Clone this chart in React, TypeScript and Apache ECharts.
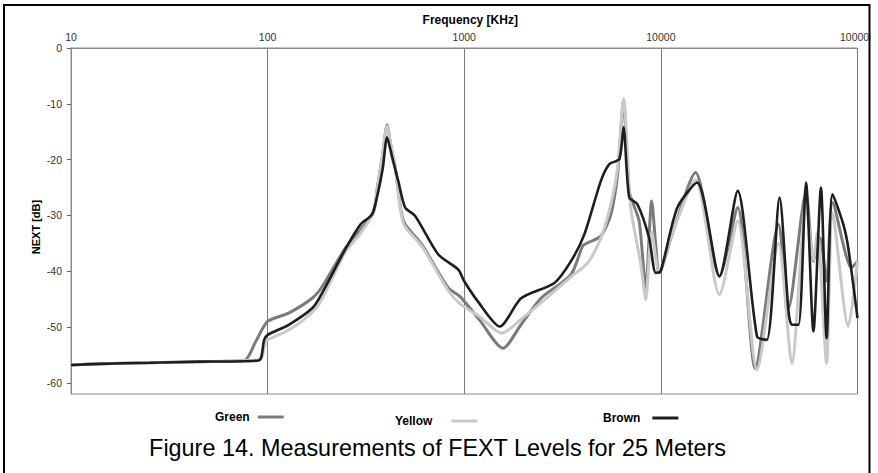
import React, { useEffect, useRef } from "react";
import * as echarts from "echarts";

const seriesNames = ["Green", "Yellow", "Brown"];
const xTickLabels = ["10", "100", "1000", "10000", "100000"];
const yTickValues = [0, -10, -20, -30, -40, -50, -60];

const greenFreq = [10, 14, 25, 45, 76, 87, 100, 128, 169, 190, 249, 297, 346, 360, 385, 405, 425, 446, 491, 608, 830, 950, 1200, 1574, 1950, 2461, 3491, 4000, 4246, 4955, 5570, 6026, 6457, 6905, 7750, 8375, 8980, 9415, 9790, 11500, 15000, 19860, 24600, 30200, 39630, 44600, 54740, 59700, 64440, 69660, 74700, 93300, 100000];
const greenDb = [-56.8, -56.6, -56.4, -56.2, -56.0, -52.6, -49.0, -47.5, -44.8, -42.7, -35.8, -32.6, -29.2, -25.4, -19, -13.8, -17.8, -21.4, -31, -35.2, -43, -44.5, -48.8, -53.8, -49.5, -44.8, -40.6, -35.5, -34.9, -33.7, -29.8, -22.6, -9.4, -25.6, -31, -43, -27.4, -35.2, -40.3, -33, -22.3, -40.9, -28.6, -57.4, -31.6, -46.6, -25.9, -38.2, -34, -41.8, -27.7, -39.4, -38.2];

const yellowFreq = [10, 14, 25, 45, 76, 92, 97, 100, 124, 150, 182, 249, 297, 346, 360, 385, 405, 425, 446, 491, 608, 830, 950, 1200, 1549, 1950, 2875, 3491, 4246, 4955, 5570, 6026, 6457, 7030, 7907, 8375, 8980, 9790, 11500, 15000, 19860, 24600, 30830, 39630, 46350, 54740, 59700, 62500, 69660, 74700, 89750, 100000];
const yellowDb = [-56.8, -56.6, -56.4, -56.2, -56.0, -55.8, -53, -52.3, -50.8, -48.9, -46, -36.5, -33.2, -29.5, -25.6, -19, -14, -17.8, -21.4, -31.5, -35.5, -43.5, -45.8, -48.2, -51.1, -48.6, -43.6, -41, -38.5, -34, -28, -21.4, -9.1, -28.6, -38.8, -45.1, -33, -40, -33, -23.6, -44.2, -31, -57.7, -35, -56.5, -28, -38, -33, -56.5, -29.5, -49.9, -38.2];

const brownFreq = [10, 14, 25, 45, 90, 96, 100, 128, 169, 190, 249, 297, 340, 360, 385, 405, 430, 463, 501, 563, 738, 933, 1000, 1178, 1517, 1952, 2875, 3491, 4082, 4955, 5470, 6150, 6457, 6905, 7600, 8710, 9415, 9980, 12130, 15300, 19860, 24600, 30830, 34600, 40150, 44600, 46350, 50120, 54740, 59700, 65200, 69660, 74700, 84700, 89750, 100000];
const brownDb = [-56.8, -56.6, -56.4, -56.2, -56.0, -52.3, -51.4, -49.6, -46.6, -43.8, -36, -31.6, -29.8, -26.7, -21.6, -16.0, -19.6, -24, -28.6, -30.1, -37.0, -39.7, -41.8, -45.5, -49.9, -44.8, -42.1, -38.2, -33.4, -23.8, -20.8, -19.9, -14.2, -26.8, -28, -34, -40.3, -40, -28.6, -24.1, -40.9, -25.6, -51.7, -52.3, -26.8, -47.2, -49.6, -49.6, -24.1, -50.8, -25, -52, -26.2, -31.6, -35.8, -48.4];

const colors = ["#7b7b7b", "#c9c9c9", "#1e1e1e"];

function pairs(f: number[], d: number[]) {
  return f.map((v, i) => [v, d[i]]);
}

export default function App() {
  const ref = useRef<HTMLDivElement>(null);
  useEffect(() => {
    if (!ref.current) return;
    const chart = echarts.init(ref.current, null, { renderer: "svg" });
    const font = "Arial, 'Liberation Sans', Helvetica, sans-serif";
    const legendPos = [
      { left: 215, top: 411, gap: 3 },
      { left: 395, top: 415, gap: 14 },
      { left: 603, top: 412, gap: 7 },
    ];
    chart.setOption({
      animation: false,
      backgroundColor: "#ffffff",
      textStyle: { fontFamily: font },
      grid: {
        left: 71,
        right: 17,
        top: 48,
        bottom: 79,
        show: true,
        borderColor: "#8a8a8a",
        borderWidth: 1,
      },
      legend: seriesNames.map((n, i) => ({
        data: [n],
        left: legendPos[i].left,
        top: legendPos[i].top,
        align: "right",
        padding: 0,
        icon: "rect",
        itemWidth: 26,
        itemHeight: 3,
        textStyle: {
          fontFamily: font,
          fontWeight: "bold",
          fontSize: 12,
          color: "#000",
          padding: [0, legendPos[i].gap, 0, 0],
        },
      })),
      xAxis: {
        type: "log",
        logBase: 10,
        min: 10,
        max: 100000,
        position: "top",
        name: "Frequency [KHz]",
        nameLocation: "middle",
        nameGap: 17,
        nameTextStyle: {
          fontWeight: "bold",
          fontSize: 12,
          color: "#000",
          fontFamily: font,
          padding: [0, 0, 0, 12],
        },
        axisLine: { show: true, lineStyle: { color: "#8a8a8a", width: 1 } },
        axisTick: { show: false },
        axisLabel: {
          margin: 6,
          fontSize: 10.5,
          color: "#333",
          fontFamily: font,
          formatter: (v: number) => {
            const idx = Math.round(Math.log10(v)) - 1;
            return xTickLabels[idx] ?? String(v);
          },
        },
        splitLine: { show: true, lineStyle: { color: "#7a7a7a", width: 1 } },
      },
      yAxis: {
        type: "value",
        min: -62,
        max: 0,
        axisLine: { show: true, lineStyle: { color: "#8a8a8a", width: 1 } },
        axisTick: {
          show: true,
          length: 4,
          lineStyle: { color: "#666" },
          customValues: yTickValues,
        },
        axisLabel: {
          margin: 9,
          fontSize: 10.5,
          color: "#333",
          fontFamily: font,
          customValues: yTickValues,
        },
        splitLine: { show: false },
      },
      series: [
        { f: greenFreq, d: greenDb },
        { f: yellowFreq, d: yellowDb },
        { f: brownFreq, d: brownDb },
      ].map((s, i) => ({
        name: seriesNames[i],
        type: "line",
        data: pairs(s.f, s.d),
        smooth: 0.25,
        showSymbol: false,
        symbol: "none",
        color: colors[i],
        lineStyle: { color: colors[i], width: i === 2 ? 2.6 : 3 },
        z: 2 + i,
      })),
      graphic: [
        {
          type: "text",
          x: 36,
          y: 227,
          rotation: Math.PI / 2,
          style: {
            text: "NEXT [dB]",
            fontSize: 11,
            fontWeight: "bold",
            fontFamily: font,
            fill: "#000",
            align: "center",
            verticalAlign: "middle",
          },
        },
        {
          type: "text",
          x: 437.5,
          y: 448,
          style: {
            text: "Figure 14. Measurements of FEXT Levels for 25 Meters",
            fontSize: 23.4,
            fontFamily: font,
            fill: "#000",
            align: "center",
            verticalAlign: "middle",
          },
        },
        {
          type: "rect",
          shape: { x: 870.5, y: 0, width: 8, height: 473 },
          style: { fill: "#ffffff" },
          z: 100,
        },
        {
          type: "rect",
          shape: { x: 4, y: 5, width: 865.5, height: 500 },
          style: { fill: "none", stroke: "#000", lineWidth: 2 },
          z: 101,
        },
      ],
    });
    return () => chart.dispose();
  }, []);
  return (
    <div
      ref={ref}
      style={{ position: "absolute", left: 0, top: 0, width: 878, height: 473, background: "#fff" }}
    />
  );
}
